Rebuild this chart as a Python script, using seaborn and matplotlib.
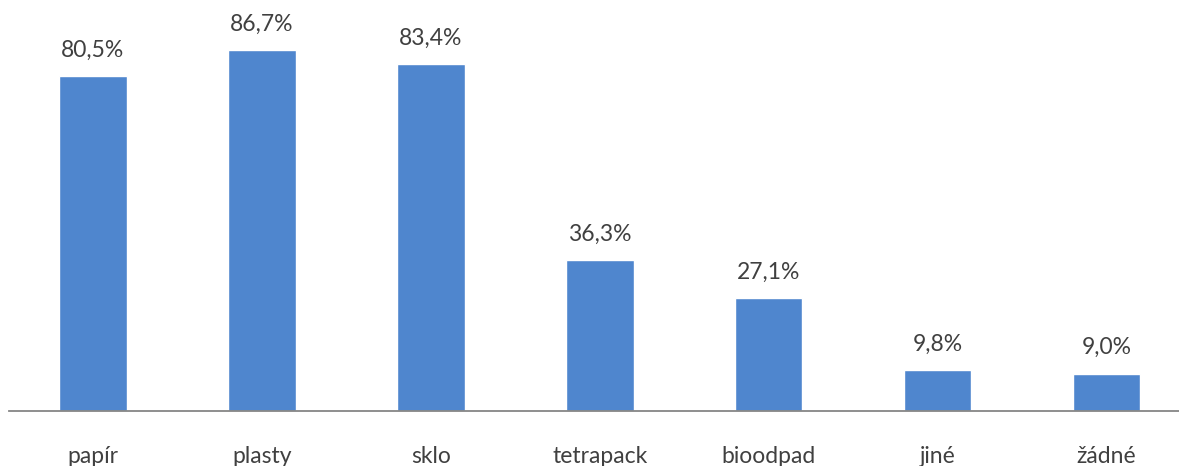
import matplotlib
matplotlib.use("Agg")
import matplotlib.pyplot as plt
import seaborn as sns
import pandas as pd

# data
categories = ["papír", "plasty", "sklo", "tetrapack", "bioodpad", "jiné", "žádné"]
values = [80.5, 86.7, 83.4, 36.3, 27.1, 9.8, 9.0]

sns.set_theme(style="white")
plt.rcParams["font.family"] = ["Lato", "DejaVu Sans"]

df = pd.DataFrame({"kat": categories, "pct": values})

fig = plt.figure(figsize=(11.79, 4.66), dpi=100)
# axes placed so the first slot starts near the left edge like the original
ax = fig.add_axes([8.5 / 1179, 55 / 466, 1182.5 / 1179, 416 / 466])

sns.barplot(data=df, x="kat", y="pct", color="#4F86CE", saturation=1,
            width=0.4, ax=ax)

ax.set_ylim(0, 100)
ax.set_xlim(-0.5, len(categories) - 0.5)

# value labels above bars, with decimal comma
for i, v in enumerate(values):
    ax.annotate(f"{v:.1f}%".replace(".", ","), (i, v), xytext=(0, 11),
                textcoords="offset points", ha="center", va="bottom",
                fontsize=16.5, color="#404040")

ax.set_xlabel("")
ax.set_ylabel("")
ax.set_yticks([])
ax.tick_params(axis="x", length=0, pad=25, labelsize=16.5, labelcolor="#404040")

for side in ["top", "right", "left"]:
    ax.spines[side].set_visible(False)
ax.spines["bottom"].set_color("#868686")
ax.spines["bottom"].set_linewidth(1.3)

fig.savefig("out.png", dpi=100)
